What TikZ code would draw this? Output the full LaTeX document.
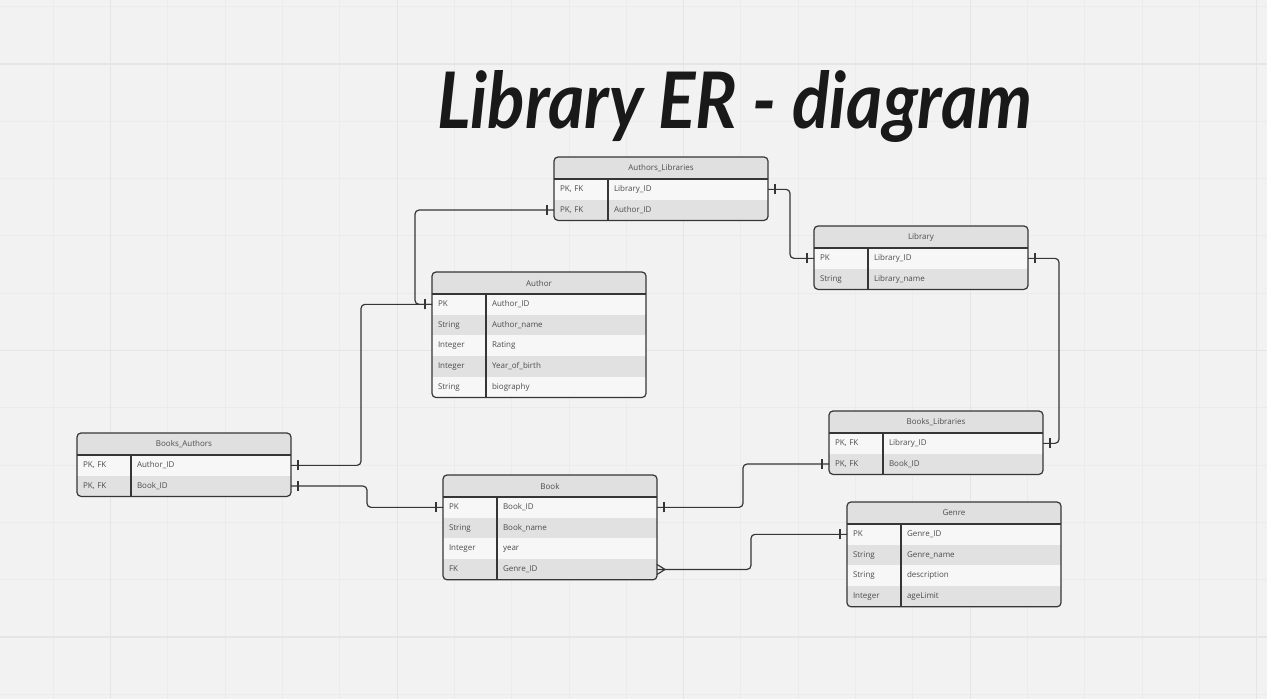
\documentclass[tikz,border=0pt]{standalone}
\usepackage{fontspec}
\setmainfont{Open Sans}
\newfontfamily\titlefont{Lato}
\usepackage{graphicx}
\usetikzlibrary{calc}
\usetikzlibrary{decorations.markings}

\definecolor{canvas}{HTML}{F2F2F2}
\definecolor{gridminor}{HTML}{EBEBEB}
\definecolor{gridmajor}{HTML}{E5E5E5}
\definecolor{headgrey}{HTML}{E0E0E0}
\definecolor{rowlight}{HTML}{F7F7F7}
\definecolor{rowdark}{HTML}{E1E1E1}
\definecolor{inkline}{HTML}{363636}
\definecolor{inktext}{HTML}{4D4D4D}

% one entity box: name, x, y, number of rows, title, rows
\newcommand{\ertable}[6]{%
  \begin{scope}
    \clip[rounded corners=4] (#2,#3) rectangle ++(214,{22+#4*20.7});
    \node[tablehead] (#1) at (#2,#3) {#5};
    \foreach \k/\f [count=\i] in {#6} {
      \pgfmathtruncatemacro\p{mod(\i,2)}
      \node[tablerow, row\p] (#1-\i) at (#2,{#3+22+(\i-1)*20.7}) {\makebox[54pt][l]{\k}\f};
    }
  \end{scope}
  \draw[tableline] (#2,#3+22) -- ++(214,0);
  \draw[tableline] (#2+54,#3+22) -- ++(0,{#4*20.7});
  \draw[tableline, rounded corners=4] (#2,#3) rectangle ++(214,{22+#4*20.7});
}

\begin{document}
\begin{tikzpicture}[x=1pt, y=-1pt,
    tablehead/.style={anchor=north west, fill=headgrey, minimum width=214pt, minimum height=22pt,
      inner sep=0pt, outer sep=0pt, text=inktext, font=\fontsize{8}{9}\selectfont},
    tablerow/.style={anchor=north west, text width=202pt, minimum height=20.7pt, inner xsep=6pt,
      inner ysep=0pt, outer sep=0pt, align=left, text=inktext, font=\fontsize{8}{9}\selectfont},
    row1/.style={fill=rowlight},
    row0/.style={fill=rowdark},
    tableline/.style={draw=inkline, line width=1.2pt},
    conn/.style={draw=inkline, line width=1.2pt, rounded corners=4},
    tick/.style={draw=inkline, line width=1.2pt},
    bar start/.style={postaction={decorate, decoration={markings,
      mark=at position 7pt with {\draw[tick] (0,-5pt) -- (0,5pt);}}}},
    bar end/.style={postaction={decorate, decoration={markings,
      mark=at position -7pt with {\draw[tick] (0,-5pt) -- (0,5pt);}}}}]

  \useasboundingbox (0,0) rectangle (1267,699);
  \fill[canvas] (0,0) rectangle (1267,699);

  % board grid
  \foreach \gx in {0,...,21}
    \draw[gridminor, line width=1pt] ({53.3+57.3*\gx},0) -- ++(0,699);
  \foreach \gy in {0,...,12}
    \draw[gridminor, line width=1pt] (0,{6.7+57.3*\gy}) -- ++(1267,0);
  \foreach \gx in {1,6,11,16,21}
    \draw[gridmajor, line width=1.2pt] ({53.3+57.3*\gx},0) -- ++(0,699);
  \foreach \gy in {1,6,11}
    \draw[gridmajor, line width=1.2pt] (0,{6.7+57.3*\gy}) -- ++(1267,0);

  \node[anchor=base west, inner sep=0pt, text=black!90] (title) at (437,128)
    {\resizebox{595pt}{58pt}{\titlefont\bfseries\itshape Library ER - diagram}};

  % entities
  \ertable{al}{554}{157}{2}{Authors\_Libraries}{{PK, FK}/Library\_ID, {PK, FK}/Author\_ID}
  \ertable{lib}{814}{226}{2}{Library}{PK/Library\_ID, String/Library\_name}
  \ertable{author}{432}{272}{5}{Author}{PK/Author\_ID, String/Author\_name, Integer/Rating,
    Integer/Year\_of\_birth, String/biography}
  \ertable{ba}{77}{433}{2}{Books\_Authors}{{PK, FK}/Author\_ID, {PK, FK}/Book\_ID}
  \ertable{book}{443}{475}{4}{Book}{PK/Book\_ID, String/Book\_name, Integer/year, FK/Genre\_ID}
  \ertable{bl}{829}{411}{2}{Books\_Libraries}{{PK, FK}/Library\_ID, {PK, FK}/Book\_ID}
  \ertable{genre}{847}{502}{4}{Genre}{PK/Genre\_ID, String/Genre\_name, String/description,
    Integer/ageLimit}

  % relations
  \draw[conn, bar start, bar end] (al-1.east) -| ($(lib-1.west)+(-24,0)$) -- (lib-1.west);
  \draw[conn, bar start, bar end] (al-2.west) -| ($(author-1.west)+(-17,0)$) -- (author-1.west);
  \draw[conn, bar start, bar end] (lib-1.east) -| ($(bl-1.east)+(16,0)$) -- (bl-1.east);
  \draw[conn, bar start, bar end] (ba-1.east) -| ($(author-1.west)+(-71,0)$) -- (author-1.west);
  \draw[conn, bar start, bar end] (ba-2.east) -| ($(book-1.west)+(-76,0)$) -- (book-1.west);
  \draw[conn, bar start, bar end] (book-1.east) -| ($(bl-2.west)+(-86,0)$) -- (bl-2.west);
  \draw[conn, bar end] (book-4.east) -| ($(genre-1.west)+(-96,0)$) -- (genre-1.west);
  \draw[conn, rounded corners=0] ($(book-4.east)+(0,-5)$) -- ++(8,5) -- ++(-8,5);

\end{tikzpicture}
\end{document}
